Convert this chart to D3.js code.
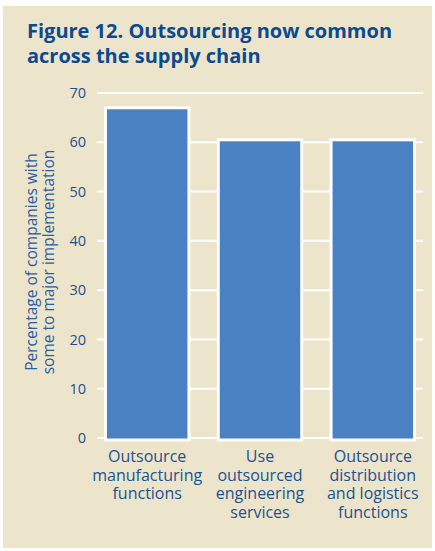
<!DOCTYPE html>
<html lang="en">
  <head>
    <meta charset="UTF-8" />
    <title>Figure 12</title>
    <script src="https://d3js.org/d3.v7.min.js"></script>
    <style>
      body { margin: 0; background: #fff; }
      svg { display: block; }
      text { font-family: "Open Sans", "Noto Sans", sans-serif; }
    </style>
  </head>
  <body>
    <svg></svg>
    <script>
      // data
      const categories = [
        ["Outsource", "manufacturing", "functions"],
        ["Use", "outsourced", "engineering", "services"],
        ["Outsource", "distribution", "and logistics", "functions"],
      ];
      const values = [67, 60.5, 60.5];
      const yTicks = [0, 10, 20, 30, 40, 50, 60, 70];
      const titleLines = ["Figure 12. Outsourcing now common", "across the supply chain"];
      const yTitle = ["Percentage of companies with", "some to major implementation"];

      let width = 435,
        height = 551;

      let svg = d3.select("svg").attr("width", width).attr("height", height);

      svg.append("rect")
        .attr("x", 3).attr("y", 6)
        .attr("width", 429).attr("height", 542)
        .attr("fill", "#ede4cc");

      // title
      svg.append("g")
        .selectAll("text")
        .data(titleLines)
        .enter()
        .append("text")
        .attr("x", 27)
        .attr("y", (d, i) => 38 + i * 25)
        .attr("fill", "#0b4a8e")
        .attr("font-weight", "bold")
        .attr("font-size", 20)
        .text((d) => d);

      let x = d3.scaleBand()
        .domain(d3.range(categories.length))
        .range([97, 423])
        .paddingInner(0.26)
        .paddingOuter(0.075);

      let y = d3.scaleLinear().domain([0, 70]).range([438, 93]);

      // gridlines
      svg.append("g")
        .selectAll("line")
        .data(yTicks)
        .enter()
        .append("line")
        .attr("x1", 97)
        .attr("x2", 423)
        .attr("y1", (d) => y(d))
        .attr("y2", (d) => y(d))
        .attr("stroke", "#fff")
        .attr("stroke-width", 2);

      // y axis labels
      let yAxis = svg.append("g")
        .attr("transform", "translate(86,0)")
        .call(d3.axisLeft(y).tickValues(yTicks).tickSize(0).tickPadding(0));
      yAxis.select(".domain").remove();
      yAxis.selectAll("text")
        .attr("font-size", 14.5)
        .attr("font-family", null)
        .attr("fill", "#1b5292");

      // bars
      svg.append("g")
        .selectAll("rect")
        .data(values)
        .enter()
        .append("rect")
        .attr("x", (d, i) => x(i))
        .attr("y", (d) => y(d))
        .attr("width", x.bandwidth())
        .attr("height", (d) => y(0) - y(d) + 2)
        .attr("fill", "#4a81c3")
        .attr("stroke", "#fff")
        .attr("stroke-width", 3);

      // category labels
      let cat = svg.append("g")
        .selectAll("text")
        .data(categories)
        .enter()
        .append("text")
        .attr("text-anchor", "middle")
        .attr("font-size", 16)
        .attr("fill", "#1b5292");
      cat.selectAll("tspan")
        .data((d, i) => d.map((t) => ({ t, i })))
        .enter()
        .append("tspan")
        .attr("x", (d) => x(d.i) + x.bandwidth() / 2)
        .attr("y", (d, j) => 462 + j * 18.7)
        .text((d) => d.t);

      // y title
      svg.append("text")
        .attr("transform", "translate(0,262) rotate(-90)")
        .attr("text-anchor", "middle")
        .attr("font-size", 15.5)
        .attr("fill", "#2a5fa3")
        .selectAll("tspan")
        .data(yTitle)
        .enter()
        .append("tspan")
        .attr("x", 0)
        .attr("y", (d, i) => 37 + i * 16.5)
        .text((d) => d);
    </script>
  </body>
</html>
